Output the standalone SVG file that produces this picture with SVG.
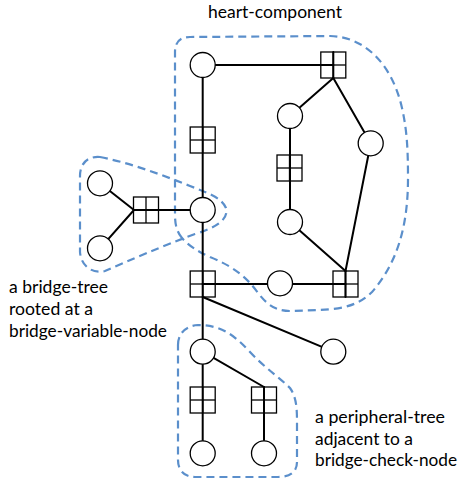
<svg xmlns="http://www.w3.org/2000/svg" width="459" height="481" viewBox="0 0 459 481">
  <style>
    .edge { stroke: #000; stroke-width: 2; fill: none; stroke-linecap: round; }
    .var { fill: #fff; stroke: #000; stroke-width: 1.3; }
    .chk { fill: none; stroke: #000; stroke-width: 1.3; }
    .region { fill: none; stroke: #5b8fcb; stroke-width: 2.2; stroke-dasharray: 8 5; }
    .label { font-family: Lato, "Open Sans", "Liberation Sans", sans-serif; font-size: 17px; fill: #000; }
  </style>
  <defs>
    <!-- check node: square with a cross, centred on its origin -->
    <g id="check">
      <rect class="chk" x="-12.5" y="-13" width="25" height="26"/>
      <line class="chk" x1="-12.5" y1="0" x2="12.5" y2="0"/>
      <line class="chk" x1="0" y1="-13" x2="0" y2="13"/>
    </g>
  </defs>

  <rect width="459" height="481" fill="#fff"/>

  <!-- dashed region outlines -->
  <g id="regions">
    <path id="heart-region" class="region" d="M182,238 C177,232 175,225 175,215 L175,52 Q175,37 190,37 L330,36 C368,37 393,68 402,108 C407,130 408,150 408,178 C408,225 398,262 372,292 C360,304 345,309 320,310 L290,311 C274,311 266,303 258,293 C246,276 232,266 210,257 C197,251 188,245 182,238 Z"/>
    <path id="bridge-region" class="region" d="M100,157 C130,163 160,174 190,186 C208,193 222,198 226,208 C229,220 215,228 195,234 C160,247 130,260 105,271 C92,274 81,266 80,252 L80,176 C80,163 88,156 100,157 Z"/>
    <path id="peripheral-region" class="region" d="M178,345 C178,333 186,326 198,325 C222,325 235,336 250,352 C265,368 280,378 290,388 C297,398 297,410 297,425 L297,462 C297,472 290,477 278,477 L195,477 C184,477 178,470 178,460 Z"/>
  </g>

  <!-- connectors -->
  <g id="connectors">
    <line class="edge" x1="202.7" y1="65" x2="333.3" y2="65"/>
    <line class="edge" x1="202.7" y1="65" x2="202.7" y2="453.3"/>
    <line class="edge" x1="333.3" y1="52" x2="333.3" y2="78"/>
    <line class="edge" x1="333.3" y1="78" x2="290" y2="116"/>
    <line class="edge" x1="333.3" y1="78" x2="370.7" y2="143.3"/>
    <line class="edge" x1="290" y1="116" x2="290" y2="222"/>
    <line class="edge" x1="290" y1="222" x2="345.5" y2="271"/>
    <line class="edge" x1="370.7" y1="143.3" x2="345.5" y2="271"/>
    <line class="edge" x1="345.5" y1="271" x2="345.5" y2="297"/>
    <line class="edge" x1="202.7" y1="284" x2="345.5" y2="284"/>
    <line class="edge" x1="202.7" y1="297" x2="333.3" y2="351.7"/>
    <line class="edge" x1="202.7" y1="210" x2="134" y2="210"/>
    <line class="edge" x1="134" y1="210" x2="100" y2="183.3"/>
    <line class="edge" x1="134" y1="210" x2="100" y2="248.3"/>
    <line class="edge" x1="202.7" y1="351.7" x2="264" y2="387"/>
    <line class="edge" x1="264" y1="387" x2="264" y2="453.3"/>
  </g>

  <!-- variable nodes -->
  <g id="v-top"><circle class="var" cx="202.7" cy="65" r="12.5"/></g>
  <g id="v-inner-top"><circle class="var" cx="290" cy="116" r="12.5"/></g>
  <g id="v-inner-right"><circle class="var" cx="370.7" cy="143.3" r="12.5"/></g>
  <g id="v-inner-bottom"><circle class="var" cx="290" cy="222" r="12.5"/></g>
  <g id="v-bridge"><circle class="var" cx="202.7" cy="210" r="12.5"/></g>
  <g id="v-leaf-a"><circle class="var" cx="100" cy="183.3" r="12.5"/></g>
  <g id="v-leaf-b"><circle class="var" cx="100" cy="248.3" r="12.5"/></g>
  <g id="v-cycle"><circle class="var" cx="280" cy="283.3" r="12.5"/></g>
  <g id="v-outer"><circle class="var" cx="333.3" cy="351.7" r="12.5"/></g>
  <g id="v-peripheral-root"><circle class="var" cx="202.7" cy="351.7" r="12.5"/></g>
  <g id="v-peripheral-left"><circle class="var" cx="202.7" cy="453.3" r="12.5"/></g>
  <g id="v-peripheral-right"><circle class="var" cx="264" cy="453.3" r="12.5"/></g>

  <!-- check nodes -->
  <g id="c-top-right"><use href="#check" x="333.3" y="65"/></g>
  <g id="c-spine"><use href="#check" x="202.7" y="140"/></g>
  <g id="c-inner"><use href="#check" x="289.5" y="168"/></g>
  <g id="c-bridge-tree"><use href="#check" x="146" y="210"/></g>
  <g id="c-bridge"><use href="#check" x="202.7" y="284"/></g>
  <g id="c-bottom-right"><use href="#check" x="345.5" y="284"/></g>
  <g id="c-peripheral-left"><use href="#check" x="202.7" y="400"/></g>
  <g id="c-peripheral-right"><use href="#check" x="264" y="400"/></g>

  <!-- labels -->
  <g id="labels">
    <text class="label" x="208" y="18" textLength="134" lengthAdjust="spacingAndGlyphs">heart-component</text>
    <text class="label" x="9" y="293" textLength="99" lengthAdjust="spacingAndGlyphs">a bridge-tree</text>
    <text class="label" x="9" y="315" textLength="84" lengthAdjust="spacingAndGlyphs">rooted at a</text>
    <text class="label" x="9" y="336.5" textLength="158" lengthAdjust="spacingAndGlyphs">bridge-variable-node</text>
    <text class="label" x="315" y="423" textLength="130" lengthAdjust="spacingAndGlyphs">a peripheral-tree</text>
    <text class="label" x="315" y="444.5" textLength="98" lengthAdjust="spacingAndGlyphs">adjacent to a</text>
    <text class="label" x="315" y="466" textLength="142" lengthAdjust="spacingAndGlyphs">bridge-check-node</text>
  </g>
</svg>
